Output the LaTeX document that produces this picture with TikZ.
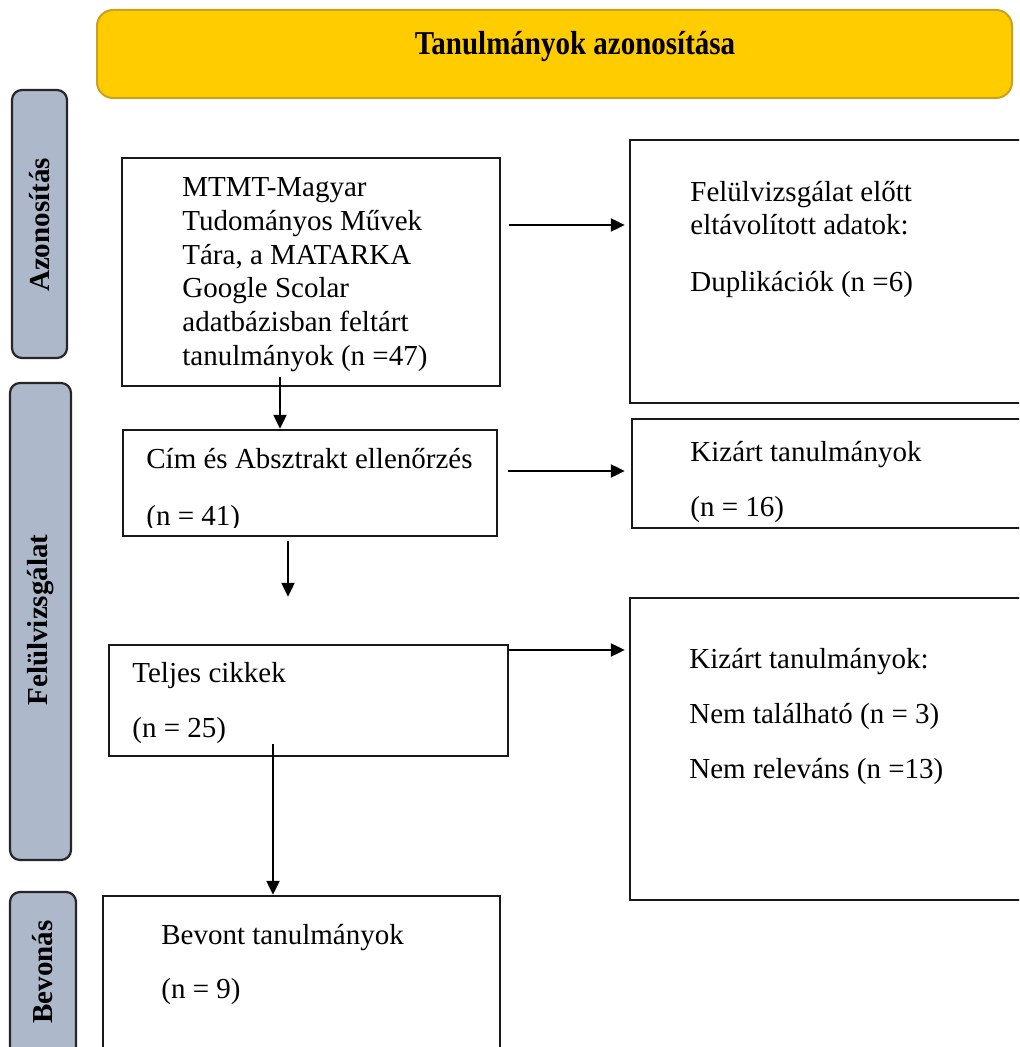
\documentclass[tikz,border=0pt]{standalone}
\usepackage{fontspec}
\setmainfont{Liberation Serif}
\usetikzlibrary{arrows.meta,calc,fit}
\definecolor{gold}{HTML}{FFCC00}
\definecolor{goldline}{HTML}{C9A21A}
\definecolor{sidefill}{HTML}{ADB9CA}
\begin{document}
\begin{tikzpicture}[x=0.5pt,y=-0.5pt,
  box/.style={draw=black!90, line width=1.2pt, inner sep=0pt},
  side/.style={draw=black!85, fill=sidefill, line width=1.1pt, rounded corners=5pt, inner sep=0pt},
  txt/.style={anchor=base west, inner sep=0pt, font=\fontsize{14.5}{17}\selectfont},
  sidetxt/.style={rotate=90, inner sep=0pt, font=\bfseries\fontsize{14.5}{17}\selectfont},
  arr/.style={-{Triangle[length=7pt,width=6.5pt]}, line width=1.1pt}]
\useasboundingbox (0,0) rectangle (1019,1047);
\clip (0,0) rectangle (1019,1047);

% title banner
\node[draw=goldline, fill=gold, line width=1pt, rounded corners=8pt, inner sep=0pt,
      fit={(97,10)(1012,98)}] (title) {};
\node[inner sep=0pt, yscale=1.15, font=\bfseries\fontsize{14.5}{17}\selectfont] (titletxt) at (575,47) {Tanulmányok azonosítása};

% side labels
\node[side, fit={(12,90)(67,358)}] (sideA) {};
\node[sidetxt] (sideAtxt) at (40,225) {Azonosítás};
\node[side, fit={(10,383)(71,860)}] (sideF) {};
\node[sidetxt] (sideFtxt) at (41,620) {Felülvizsgálat};
\node[side, fit={(10,892)(76,1080)}] (sideB) {};
\node[sidetxt] (sideBtxt) at (43,972) {Bevonás};

% boxes
\node[box, fit={(122,158)(500,386)}] (mtmt) {};
\node[box, fit={(630,140)(1040,403)}] (r1) {};
\node[box, fit={(123,430)(497,536)}] (cim) {};
\node[box, fit={(632,419)(1040,528)}] (r2) {};
\node[box, fit={(109,645)(508,756)}] (teljes) {};
\node[box, fit={(630,598)(1040,900)}] (r3) {};
\node[box, fit={(103,896)(500,1080)}] (bevont) {};

% texts
\node[txt] (m1) at (182,197) {MTMT-Magyar};
\node[txt] (m2) at (182,230.6) {Tudományos Művek};
\node[txt] (m3) at (182,264.2) {Tára, a MATARKA};
\node[txt] (m4) at (182,297.8) {Google Scolar};
\node[txt] (m5) at (182,331.4) {adatbázisban feltárt};
\node[txt] (m6) at (182,365) {tanulmányok (n =47)};

\node[txt] (a1) at (690,202) {Felülvizsgálat előtt};
\node[txt] (a2) at (690,235) {eltávolított adatok:};
\node[txt] (a3) at (690,292) {Duplikációk (n =6)};

\node[txt] (c1) at (146,468) {Cím és Absztrakt ellenőrzés};
\begin{scope}
\clip (120,430) rectangle (500,527);
\node[txt] (c2) at (146,525) {(n = 41)};
\end{scope}

\node[txt] (k1) at (690,461) {Kizárt tanulmányok};
\node[txt] (k2) at (690,516) {(n = 16)};

\node[txt] (t1) at (132,682) {Teljes cikkek};
\node[txt] (t2) at (132,737) {(n = 25)};

\node[txt] (e1) at (689,668) {Kizárt tanulmányok:};
\node[txt] (e2) at (689,723) {Nem található (n = 3)};
\node[txt] (e3) at (689,778) {Nem releváns (n =13)};

\node[txt] (b1) at (161,944) {Bevont tanulmányok};
\node[txt] (b2) at (161,998) {(n = 9)};

% connectors
\coordinate (ya) at (0,225);
\coordinate (yb) at (0,471);
\coordinate (yc) at (0,650);
\coordinate (xa) at (280,0);
\coordinate (xb) at (288,0);
\coordinate (xc) at (273,0);
\draw[arr, shorten <=4pt, shorten >=2pt] (mtmt.east |- ya) -- (r1.west |- ya);
\draw[arr, shorten <=-5pt] (mtmt.south -| xa) -- (cim.north -| xa);
\draw[arr, shorten <=5pt, shorten >=3pt] (cim.east |- yb) -- (r2.west |- yb);
\draw[arr, shorten <=2pt, shorten >=23.5pt] (cim.south -| xb) -- (teljes.north -| xb);
\draw[arr, shorten >=2pt] (teljes.east |- yc) -- (r3.west |- yc);
\draw[arr, shorten <=-6.5pt] (teljes.south -| xc) -- (bevont.north -| xc);
\end{tikzpicture}
\end{document}
